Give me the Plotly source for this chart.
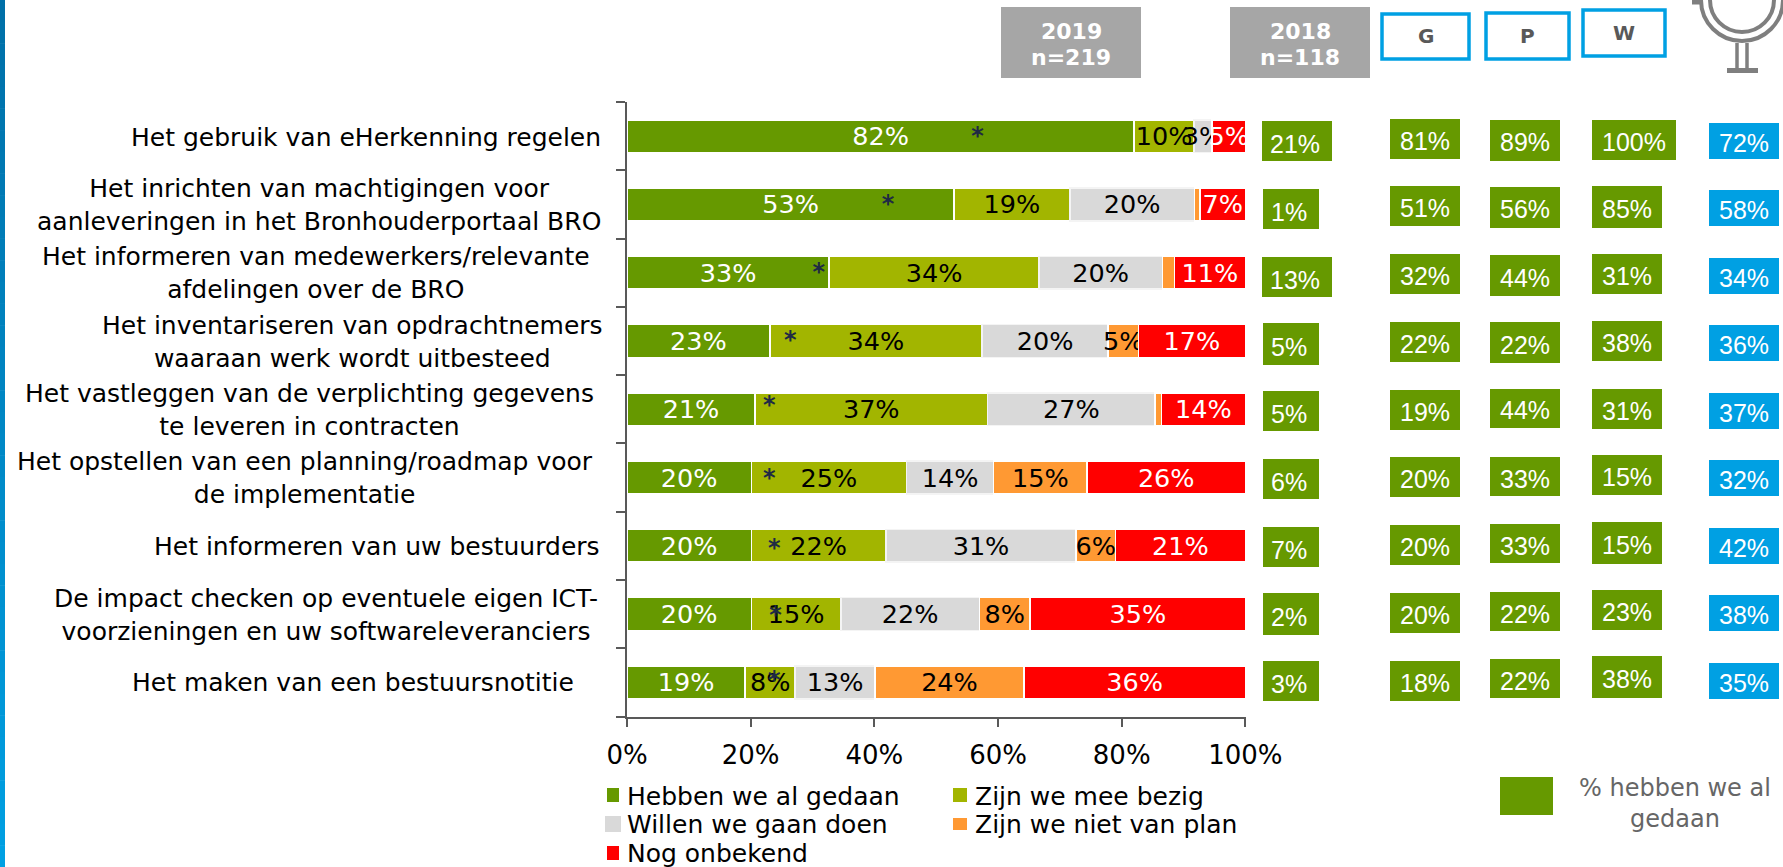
import plotly.graph_objects as go

W, H = 1783, 867
FONT = "DejaVu Sans"
ARIAL = "Liberation Sans"

# ---- data ----
series_names = ["Hebben we al gedaan", "Zijn we mee bezig", "Willen we gaan doen", "Zijn we niet van plan", "Nog onbekend"]
gedaan = [82.0, 52.9, 32.7, 23.1, 20.7, 20.1, 20.1, 20.1, 19.1]
bezig = [9.7, 18.7, 33.9, 34.3, 37.6, 25.1, 21.8, 14.5, 8.1]
willen = [2.9, 20.2, 20.0, 20.4, 27.1, 14.1, 30.7, 22.4, 12.9]
niet = [0.0, 0.9, 1.9, 4.9, 1.0, 15.1, 6.4, 8.2, 24.1]
onbekend = [5.4, 7.3, 11.5, 17.3, 13.6, 25.6, 21.0, 34.8, 35.8]
lab_gedaan = ["82%", "53%", "33%", "23%", "21%", "20%", "20%", "20%", "19%"]
lab_bezig = ["10%", "19%", "34%", "34%", "37%", "25%", "22%", "15%", "8%"]
lab_willen = ["3%", "20%", "20%", "20%", "27%", "14%", "31%", "22%", "13%"]
lab_niet = ["", "", "", "5%", "", "15%", "6%", "8%", "24%"]
lab_onbekend = ["5%", "7%", "11%", "17%", "14%", "26%", "21%", "35%", "36%"]
star_x = [56.7, 42.2, 31.0, 26.4, 23.0, 23.0, 23.8, 24.0, 23.8]
col_2018 = ["21%", "1%", "13%", "5%", "5%", "6%", "7%", "2%", "3%"]
col_g = ["81%", "51%", "32%", "22%", "19%", "20%", "20%", "20%", "18%"]
col_p = ["89%", "56%", "44%", "22%", "44%", "33%", "33%", "22%", "22%"]
col_w = ["100%", "85%", "31%", "38%", "31%", "15%", "15%", "23%", "38%"]
col_blue = ["72%", "58%", "34%", "36%", "37%", "32%", "42%", "38%", "35%"]
categories = [
    "Het gebruik van eHerkenning regelen",
    "Het inrichten van machtigingen voor<br>aanleveringen in het Bronhouderportaal BRO",
    "Het informeren van medewerkers/relevante<br>afdelingen over de BRO",
    "Het inventariseren van opdrachtnemers<br>waaraan werk wordt uitbesteed",
    "Het vastleggen van de verplichting gegevens<br>te leveren in contracten",
    "Het opstellen van een planning/roadmap voor<br>de implementatie",
    "Het informeren van uw bestuurders",
    "De impact checken op eventuele eigen ICT-<br>voorzieningen en uw softwareleveranciers",
    "Het maken van een bestuursnotitie",
]

# ---- layout-only geometry (pixels) ----
rows = list(range(9))
cat_x = [366, 319, 316, 352, 309, 304.5, 377, 326, 353]
cat_y = [137.7, 205, 273, 341.5, 410.5, 478, 546.7, 615, 682.7]
star_y = [0.03, 1.02, 2.02, 3.02, 3.96, 5.03, 6.06, 7.04, 7.99]
boxes_2018 = [(1262, 1332, 121, 161), (1263, 1319, 189, 229), (1262, 1332, 257, 297), (1263, 1319, 323, 365),
              (1263, 1319, 391, 431), (1263, 1319, 459, 499), (1263, 1319, 527, 567), (1263, 1319, 593, 635), (1263, 1319, 661, 701)]
ys_g = [(119, 159), (186, 226), (254, 294), (322, 362), (390, 430), (457, 497), (525, 565), (593, 633), (661, 701)]
ys_p = [(120, 161), (187, 228), (255, 296), (322, 363), (389, 428), (457, 496), (524, 563), (592, 631), (659, 698)]
ys_w = [(120, 160), (186, 228), (254, 294), (321, 361), (389, 429), (455, 495), (522, 564), (590, 630), (656, 698)]
ys_b = [(123, 159), (190, 226), (258, 294), (325, 361), (393, 429), (460, 496), (528, 564), (595, 631), (663, 699)]
w_x = [(1592, 1676)] + [(1592, 1662)] * 8

GREEN, OLIVE, GREY, ORANGE, RED, BLUE = "#669900", "#A2B500", "#D9D9D9", "#FF9933", "#FF0000", "#00A0E3"
INK = "#595959"


def fx(p):
    return p / W


def fy(p):
    return 1 - p / H


fig = go.Figure()
for name, vals, labs, col, tc in [
    (series_names[0], gedaan, lab_gedaan, GREEN, "white"),
    (series_names[1], bezig, lab_bezig, OLIVE, "black"),
    (series_names[2], willen, lab_willen, GREY, "black"),
    (series_names[3], niet, lab_niet, ORANGE, "black"),
    (series_names[4], onbekend, lab_onbekend, RED, "white"),
]:
    fig.add_bar(
        x=vals, y=rows, name=name, orientation="h", width=0.48,
        marker=dict(color=col, line=dict(color="#F4F4F4" if col == GREY else "white", width=1.5)),
        text=labs, textposition="inside", insidetextanchor="middle", constraintext="none",
        textangle=0, insidetextfont=dict(family=FONT, size=25.5, color=tc),
        showlegend=False, cliponaxis=True,
    )
fig.add_scatter(
    x=star_x, y=star_y, mode="text", text=["<b>*</b>"] * 9, textposition="middle center",
    textfont=dict(family=FONT, size=24, color="#1F2A44"), showlegend=False, cliponaxis=False,
)

shapes, ann = [], []


def rect(x0, x1, y0, y1, fill, line=None, lw=0):
    shapes.append(dict(type="rect", xref="paper", yref="paper", x0=fx(x0), x1=fx(x1), y0=fy(y1), y1=fy(y0),
                       fillcolor=fill, line=dict(color=line or fill, width=lw), layer="above"))


def text(x, y, s, size=25, color="black", family=FONT, anchor="center", bold=False):
    ann.append(dict(xref="paper", yref="paper", x=fx(x), y=fy(y), text=f"<b>{s}</b>" if bold else s,
                    showarrow=False, xanchor=anchor, yanchor="middle", align="center", borderpad=0,
                    font=dict(family=family, size=size, color=color)))


# left strip (gradient)
n = 40
for i in range(n):
    t = i / (n - 1)
    c = f"rgb(0,{int(112 + t * (160 - 112))},{int(168 + t * (227 - 168))})"
    rect(0, 5, H * i / n, H * (i + 1) / n + 0.5, c)

# category labels
for x, y, s in zip(cat_x, cat_y, categories):
    text(x, y, s)

# header boxes
rect(1001, 1141, 7, 78, "#A6A6A6")
rect(1230, 1370, 7, 78, "#A6A6A6")
text(1071, 31, "2019", 22, "white", bold=True)
text(1071, 57, "n=219", 22, "white", bold=True)
text(1300, 31, "2018", 22, "white", bold=True)
text(1300, 57, "n=118", 22, "white", bold=True)
for x0, x1, y0, y1, s in [(1382, 1469, 14, 59, "G"), (1486, 1569, 13, 59, "P"), (1583, 1665, 10, 56, "W")]:
    rect(x0, x1, y0, y1, "white", BLUE, 3.5)
    text((x0 + x1) / 2, (y0 + y1) / 2, s, 20, INK, bold=True)

# side columns
for i in rows:
    x0, x1, y0, y1 = boxes_2018[i]
    rect(x0, x1, y0, y1, GREEN)
    text((x0 + x1) / 2 - 2, (y0 + y1) / 2 + 3, col_2018[i], 25, "white", ARIAL)
    for xs, ys, vals, c in [((1390, 1460), ys_g[i], col_g, GREEN), ((1490, 1560), ys_p[i], col_p, GREEN),
                            (w_x[i], ys_w[i], col_w, GREEN), ((1709, 1779), ys_b[i], col_blue, BLUE)]:
        rect(xs[0], xs[1], ys[0], ys[1], c)
        text(sum(xs) / 2, sum(ys) / 2 + 2, vals[i], 25, "white", ARIAL)

# legend
for (x0, x1, y0, y1), c, (tx, ty), s in [
    ((607, 619, 788, 802), GREEN, (626, 796), series_names[0]),
    ((953, 967, 788, 802), OLIVE, (974, 796), series_names[1]),
    ((605, 621, 816, 832), GREY, (626, 824), series_names[2]),
    ((953, 967, 818, 830), ORANGE, (974, 824), series_names[3]),
    ((607, 619, 846, 860), RED, (626, 853), series_names[4]),
]:
    rect(x0, x1, y0, y1, c)
    text(tx, ty, s, anchor="left")
rect(1500, 1553, 777, 815, GREEN)
text(1675, 803, "% hebben we al<br>gedaan", 24, "#666666")

# mirror icon
ICON = "#7F7F7F"
for r in (41, 32):
    shapes.append(dict(type="circle", xref="paper", yref="paper", x0=fx(1742 - r), x1=fx(1742 + r), y0=fy(r), y1=fy(-r),
                       line=dict(color=ICON, width=4), layer="above"))
for px in (1737, 1747):
    shapes.append(dict(type="line", xref="paper", yref="paper", x0=fx(px), x1=fx(px), y0=fy(43), y1=fy(69),
                       line=dict(color=ICON, width=3.5), layer="above"))
shapes.append(dict(type="line", xref="paper", yref="paper", x0=fx(1727), x1=fx(1758), y0=fy(70.5), y1=fy(70.5),
                   line=dict(color=ICON, width=5), layer="above"))
shapes.append(dict(type="line", xref="paper", yref="paper", x0=fx(1692), x1=fx(1700), y0=fy(2), y1=fy(2),
                   line=dict(color=ICON, width=5), layer="above"))

fig.update_layout(
    width=W, height=H, margin=dict(l=0, r=0, t=0, b=0, autoexpand=False), barmode="stack", bargap=0.5,
    paper_bgcolor="white", plot_bgcolor="white", showlegend=False, shapes=shapes, annotations=ann,
    font=dict(family=FONT, size=24, color="black"),
    xaxis=dict(domain=[fx(627), fx(1245.5)], range=[0, 100.02], tick0=0, dtick=20, ticksuffix="%", ticks="outside",
               ticklen=8, tickwidth=2, tickcolor=INK, showline=True, linecolor=INK, linewidth=2, showgrid=False,
               zeroline=False, tickfont=dict(family=FONT, size=26, color="black"), ticklabelstandoff=6),
    yaxis=dict(domain=[fy(716.5), fy(102)], range=[8.5, -0.5], tick0=-0.5, dtick=1, ticks="outside", ticklen=9,
               tickwidth=2, tickcolor=INK, showline=True, linecolor=INK, linewidth=2, showgrid=False,
               zeroline=False, showticklabels=False),
)
fig.write_html("out.html", config={"displayModeBar": False},
               post_script="document.body.style.margin='0';document.body.style.overflow='hidden';")
